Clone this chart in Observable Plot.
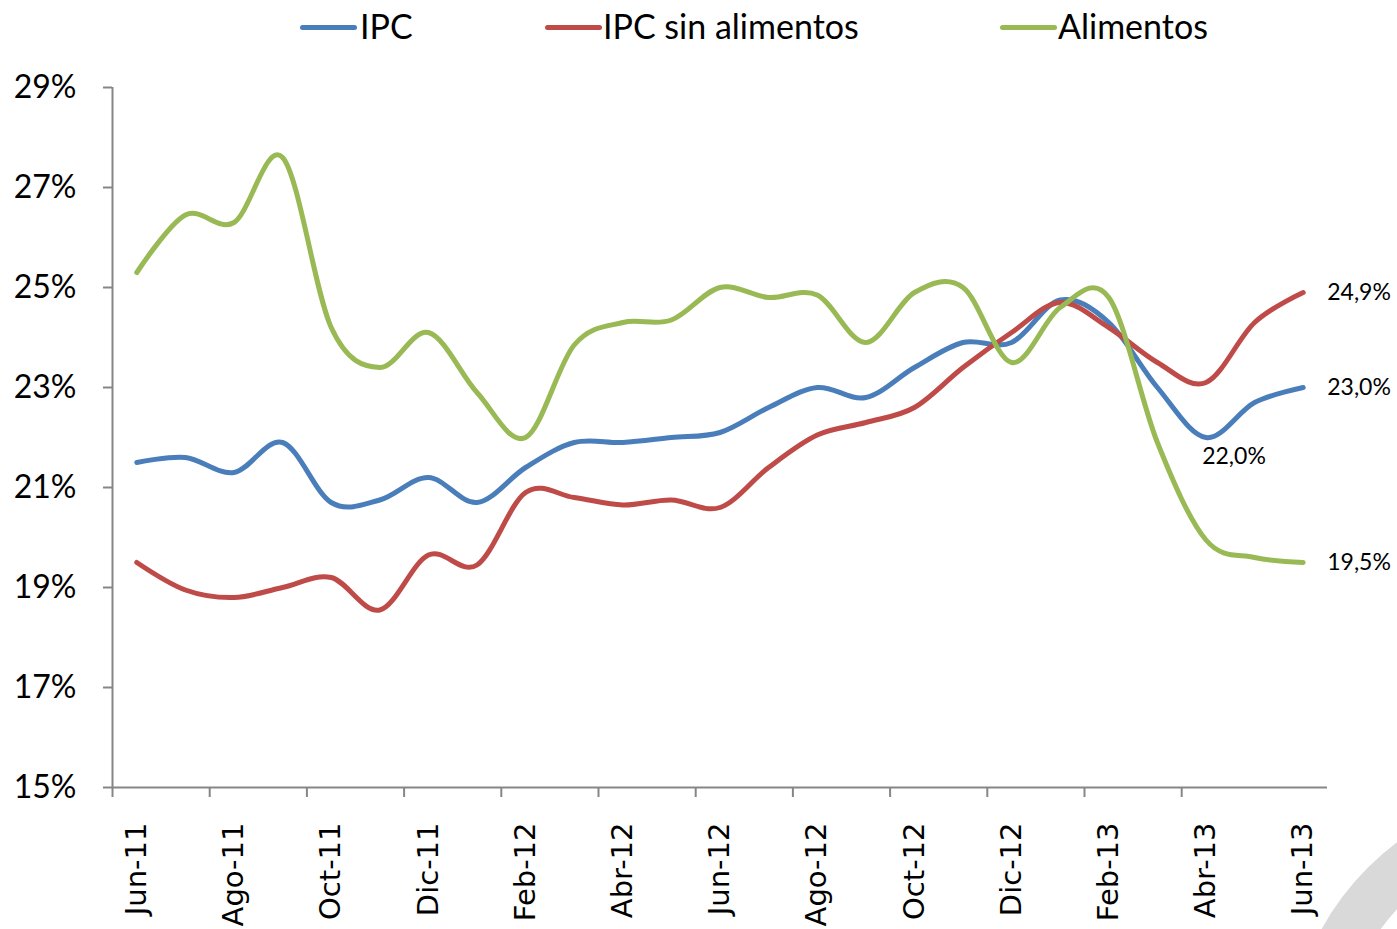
<!DOCTYPE html>
<html>
<head>
<meta charset="utf-8">
<script src="https://cdn.jsdelivr.net/npm/d3@7"></script>
<script src="https://cdn.jsdelivr.net/npm/@observablehq/plot@0.6"></script>
<style>
  html, body { margin: 0; padding: 0; background: #fff; overflow: hidden; }
  #wrap { position: relative; width: 1397px; height: 929px; overflow: hidden; font-family: Lato, "Noto Sans", sans-serif; }
  #legend { position: relative; height: 55px; }
  .sw { position: absolute; top: 25px; width: 57px; height: 5px; border-radius: 3px; }
  .lt { position: absolute; top: 9px; font-size: 34px; line-height: 34px; color: #000; white-space: nowrap; }
  #deco { position: absolute; left: 1288px; top: 788px; width: 444px; height: 444px; border-radius: 50%;
          border: 50px solid #d9d9d9; box-sizing: content-box; }
  #chart { position: relative; }
  #chart svg { display: block; }
</style>
</head>
<body>
<div id="wrap">
  <div id="deco"></div>
  <div id="legend"></div>
  <div id="chart"></div>
</div>
<script>
// ---- data ----
const months = ["Jun-11","Jul-11","Ago-11","Sep-11","Oct-11","Nov-11","Dic-11","Ene-12","Feb-12","Mar-12","Abr-12","May-12",
                "Jun-12","Jul-12","Ago-12","Sep-12","Oct-12","Nov-12","Dic-12","Ene-13","Feb-13","Mar-13","Abr-13","May-13","Jun-13"];
const ipc            = [21.5, 21.6, 21.3, 21.9, 20.7, 20.75, 21.2, 20.7, 21.4, 21.9, 21.9, 22.0, 22.1, 22.6, 23.0, 22.8, 23.4, 23.9, 23.9, 24.75, 24.3, 23.0, 22.0, 22.7, 23.0];
const ipcSinAlim     = [19.5, 18.95, 18.8, 19.0, 19.2, 18.55, 19.65, 19.45, 20.9, 20.8, 20.65, 20.75, 20.6, 21.4, 22.05, 22.3, 22.6, 23.4, 24.1, 24.7, 24.2, 23.5, 23.1, 24.3, 24.9];
const alimentos      = [25.3, 26.45, 26.3, 27.6, 24.2, 23.4, 24.1, 22.9, 22.0, 23.85, 24.3, 24.35, 25.0, 24.8, 24.85, 23.9, 24.9, 25.0, 23.5, 24.6, 24.8, 21.9, 19.95, 19.6, 19.5];
const seriesNames    = ["IPC", "IPC sin alimentos", "Alimentos"];
const seriesColors   = ["#4A7EBB", "#BE4B48", "#98B954"];
const yTicks         = [15, 17, 19, 21, 23, 25, 27, 29];

// ---- tables ----
const seriesValues = [ipc, ipcSinAlim, alimentos];
const rows = [];
seriesNames.forEach((s, k) => seriesValues[k].forEach((v, i) => rows.push({i, serie: s, value: v})));
const last = months.length - 1;
const fmt = v => v.toFixed(1).replace(".", ",") + "%";
const endLabels = seriesNames.map((s, k) => ({i: last, serie: s, value: seriesValues[k][last]}));
const minLabel = [{i: 22, serie: "IPC", value: ipc[22]}];
const labelIdx = months.map((m, i) => i).filter(i => i % 2 === 0);
const boundaries = labelIdx.filter(i => i < last).map(i => i - 0.5);

// ---- legend ----
const legend = document.getElementById("legend");
const legendPos = [[300, 360], [545, 603], [1000, 1058]];
seriesNames.forEach((s, k) => {
  const sw = document.createElement("div");
  sw.className = "sw"; sw.style.left = legendPos[k][0] + "px"; sw.style.background = seriesColors[k];
  const t = document.createElement("div");
  t.className = "lt"; t.style.left = legendPos[k][1] + "px"; t.textContent = s;
  legend.append(sw, t);
});

// ---- chart ----
const axisColor = "#868686";
const chart = Plot.plot({
  width: 1397,
  height: 874,
  marginTop: 32,
  marginBottom: 142,
  marginLeft: 112,
  marginRight: 70,
  style: {background: "transparent", fontFamily: "Lato, 'Noto Sans', sans-serif", overflow: "visible"},
  x: {type: "linear", domain: [-0.5, last + 0.5], label: null},
  y: {domain: [15, 29], label: null},
  color: {domain: seriesNames, range: seriesColors},
  marks: [
    Plot.axisY({ticks: yTicks, tickSize: 9, tickPadding: 27, tickFormat: d => d + "%", fontSize: 32,
                stroke: axisColor, strokeWidth: 2, fill: "#000", label: null}),
    Plot.ruleX([-0.5], {stroke: axisColor, strokeWidth: 2}),
    Plot.ruleY([15], {stroke: axisColor, strokeWidth: 2}),
    Plot.axisX({ticks: boundaries, tickSize: 10, tickFormat: () => "", stroke: axisColor, strokeWidth: 2, label: null}),
    Plot.axisX({ticks: labelIdx, tickSize: 0, tickPadding: 35, tickRotate: -90, tickFormat: i => months[i],
                fontSize: 29, fontFamily: "DejaVu Sans", fill: "#000", label: null}),
    Plot.line(rows, {x: "i", y: "value", z: "serie", stroke: "serie", strokeWidth: 5,
                     curve: "cardinal", tension: 0, strokeLinecap: "round"}),
    Plot.text(endLabels, {x: "i", y: "value", text: d => fmt(d.value), dx: 24, textAnchor: "start",
                          fontSize: 23, fill: "#000"}),
    Plot.text(minLabel, {x: "i", y: "value", text: d => fmt(d.value), dx: 28, dy: 19, textAnchor: "middle",
                         fontSize: 23, fill: "#000"})
  ]
});
document.getElementById("chart").append(chart);
</script>
</body>
</html>
